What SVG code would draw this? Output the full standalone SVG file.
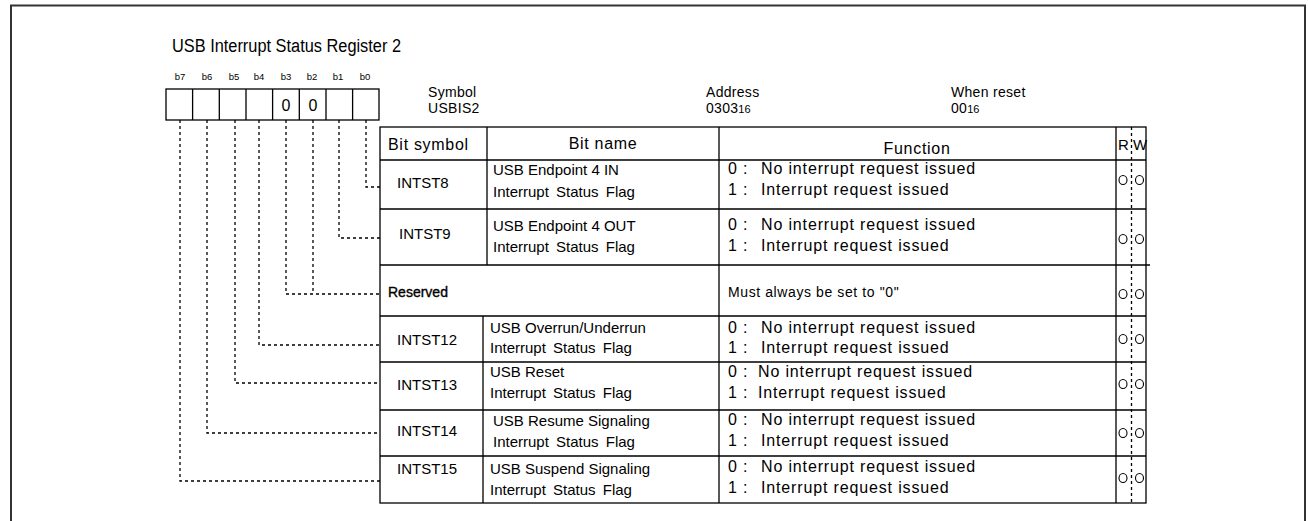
<svg xmlns="http://www.w3.org/2000/svg" width="1308" height="521" viewBox="0 0 1308 521">
  <style>
    text { font-family: "Liberation Sans", Arial, sans-serif; fill: #000; }
    .title { font-size: 18px; }
    .bitno { font-size: 9.5px; }
    .hdr { font-size: 14px; letter-spacing: 0.3px; }
    .sub { font-size: 11px; letter-spacing: 0; }
    .cell { font-size: 15px; }
    .head { font-size: 16px; letter-spacing: 0.7px; }
    .func { font-size: 16px; letter-spacing: 0.85px; }
    .name { word-spacing: 3px; }
    .small { font-size: 14px; letter-spacing: 0.6px; }
    .mid { text-anchor: middle; }
    .line { stroke: #000; stroke-width: 1.3; fill: none; }
    .dash { stroke: #000; stroke-width: 1.3; fill: none; stroke-dasharray: 3 3; }
    .mark { stroke: #000; stroke-width: 1.1; fill: none; }
  </style>

  <!-- outer frame (open at the bottom) -->
  <path d="M11,521 V5.5 H1305 V521" fill="none" stroke="#333" stroke-width="2"/>

  <text class="title" x="172" y="52" textLength="229" lengthAdjust="spacingAndGlyphs">USB Interrupt Status Register 2</text>

  <!-- register bit boxes -->
  <g id="register">
    <g class="bitno mid">
      <text x="180" y="80">b7</text>
      <text x="207" y="80">b6</text>
      <text x="234" y="80">b5</text>
      <text x="259" y="80">b4</text>
      <text x="286" y="80">b3</text>
      <text x="312" y="80">b2</text>
      <text x="338" y="80">b1</text>
      <text x="365" y="80">b0</text>
    </g>
    <rect class="line" x="166" y="89" width="213" height="31"/>
    <path class="line" d="M192.6,89 V120 M219.3,89 V120 M246,89 V120 M272.6,89 V120 M299.3,89 V120 M326,89 V120 M352.6,89 V120"/>
    <text class="mid" font-size="16" x="286" y="111">0</text>
    <text class="mid" font-size="16" x="313" y="111">0</text>
  </g>

  <!-- register identification -->
  <g id="info" class="hdr">
    <text x="428" y="97">Symbol</text>
    <text x="428" y="113">USBIS2</text>
    <text x="706" y="97">Address</text>
    <text x="706" y="113">0303<tspan class="sub">16</tspan></text>
    <text x="951" y="97">When reset</text>
    <text x="951" y="113">00<tspan class="sub">16</tspan></text>
  </g>

  <!-- bit-to-row leader lines -->
  <g id="connectors">
    <path class="dash" d="M180,120 V481 H380"/>
    <path class="dash" d="M207,120 V433 H380"/>
    <path class="dash" d="M235,120 V383 H380"/>
    <path class="dash" d="M259,120 V345 H380"/>
    <path class="dash" d="M286,120 V294 H380"/>
    <path class="dash" d="M313,120 V294"/>
    <path class="dash" d="M339,120 V238 H380"/>
    <path class="dash" d="M366,120 V187 H380"/>
  </g>

  <!-- table grid -->
  <g id="table">
    <rect class="line" x="380" y="127" width="766" height="376"/>
    <path class="line" d="M380,160 H1146 M380,209 H1146 M380,265 H1150 M380,316 H1146 M380,362 H1146 M380,410 H1146 M380,456 H1146"/>
    <path class="line" d="M487,127 V265 M483,316 V503 M719,127 V503 M1116,127 V503"/>
    <path class="dash" d="M1131.5,127 V503" stroke-dasharray="3 2.5"/>
  </g>

  <g id="header">
    <text class="head" x="388" y="150">Bit symbol</text>
    <text class="head mid" x="603" y="149">Bit name</text>
    <text class="head mid" x="917" y="154">Function</text>
    <text class="cell" font-size="14" x="1118" y="150">R</text>
    <text class="cell" font-size="14" x="1133" y="150">W</text>
  </g>

  <g id="row-intst8">
    <text class="cell" x="397" y="188">INTST8</text>
    <text class="cell" x="493" y="175">USB Endpoint 4 IN</text>
    <text class="cell name" x="493" y="197">Interrupt Status Flag</text>
    <text class="func" x="728" y="174">0 :</text><text class="func" x="761" y="174">No interrupt request issued</text>
    <text class="func" x="728" y="195">1 :</text><text class="func" x="761" y="195">Interrupt request issued</text>
    <ellipse class="mark" cx="1123" cy="180" rx="4" ry="4.5"/><ellipse class="mark" cx="1139.5" cy="180" rx="4" ry="4.5"/>
  </g>

  <g id="row-intst9">
    <text class="cell" x="399" y="239">INTST9</text>
    <text class="cell" x="493" y="231">USB Endpoint 4 OUT</text>
    <text class="cell name" x="493" y="252">Interrupt Status Flag</text>
    <text class="func" x="728" y="230">0 :</text><text class="func" x="761" y="230">No interrupt request issued</text>
    <text class="func" x="728" y="251">1 :</text><text class="func" x="761" y="251">Interrupt request issued</text>
    <ellipse class="mark" cx="1123" cy="239" rx="4" ry="4.5"/><ellipse class="mark" cx="1139.5" cy="239" rx="4" ry="4.5"/>
  </g>

  <g id="row-reserved">
    <text font-size="14" x="388" y="297" stroke="#000" stroke-width="0.35">Reserved</text>
    <text class="small" x="728" y="297">Must always be set to "0"</text>
    <ellipse class="mark" cx="1123" cy="294" rx="4" ry="4.5"/><ellipse class="mark" cx="1139.5" cy="294" rx="4" ry="4.5"/>
  </g>

  <g id="row-intst12">
    <text class="cell" x="397" y="345">INTST12</text>
    <text class="cell" x="490" y="333">USB Overrun/Underrun</text>
    <text class="cell name" x="490" y="353">Interrupt Status Flag</text>
    <text class="func" x="728" y="333">0 :</text><text class="func" x="761" y="333">No interrupt request issued</text>
    <text class="func" x="728" y="353">1 :</text><text class="func" x="761" y="353">Interrupt request issued</text>
    <ellipse class="mark" cx="1123" cy="339" rx="4" ry="4.5"/><ellipse class="mark" cx="1139.5" cy="339" rx="4" ry="4.5"/>
  </g>

  <g id="row-intst13">
    <text class="cell" x="397" y="390">INTST13</text>
    <text class="cell" x="490" y="377">USB Reset</text>
    <text class="cell name" x="490" y="398">Interrupt Status Flag</text>
    <text class="func" x="728" y="377">0 :</text><text class="func" x="758" y="377">No interrupt request issued</text>
    <text class="func" x="728" y="398">1 :</text><text class="func" x="758" y="398">Interrupt request issued</text>
    <ellipse class="mark" cx="1123" cy="384" rx="4" ry="4.5"/><ellipse class="mark" cx="1139.5" cy="384" rx="4" ry="4.5"/>
  </g>

  <g id="row-intst14">
    <text class="cell" x="397" y="436">INTST14</text>
    <text class="cell" x="493" y="426">USB Resume Signaling</text>
    <text class="cell name" x="493" y="447">Interrupt Status Flag</text>
    <text class="func" x="728" y="425">0 :</text><text class="func" x="761" y="425">No interrupt request issued</text>
    <text class="func" x="728" y="446">1 :</text><text class="func" x="761" y="446">Interrupt request issued</text>
    <ellipse class="mark" cx="1123" cy="433" rx="4" ry="4.5"/><ellipse class="mark" cx="1139.5" cy="433" rx="4" ry="4.5"/>
  </g>

  <g id="row-intst15">
    <text class="cell" x="397" y="474">INTST15</text>
    <text class="cell" x="490" y="474">USB Suspend Signaling</text>
    <text class="cell name" x="490" y="495">Interrupt Status Flag</text>
    <text class="func" x="728" y="472">0 :</text><text class="func" x="761" y="472">No interrupt request issued</text>
    <text class="func" x="728" y="493">1 :</text><text class="func" x="761" y="493">Interrupt request issued</text>
    <ellipse class="mark" cx="1123" cy="478" rx="4" ry="4.5"/><ellipse class="mark" cx="1139.5" cy="478" rx="4" ry="4.5"/>
  </g>
</svg>
